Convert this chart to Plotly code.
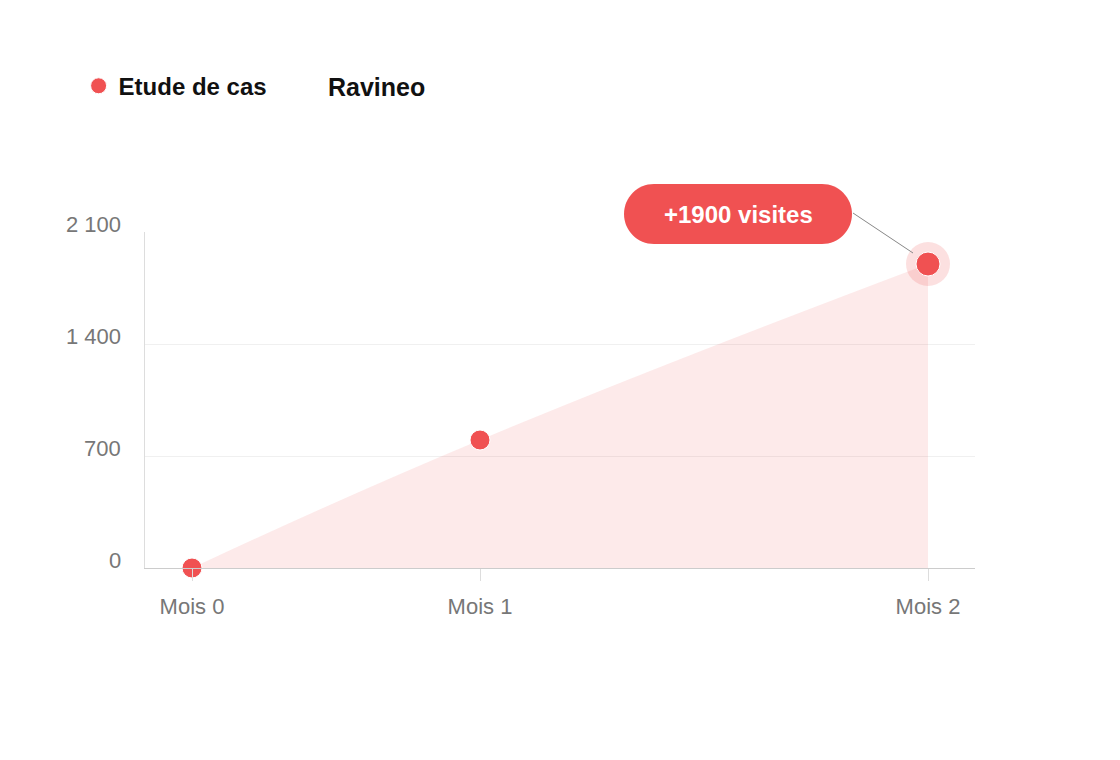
import plotly.graph_objects as go

# données
mois = ["Mois 0", "Mois 1", "Mois 2"]
jours = [0, 36, 92]
visites = [0, 800, 1900]
y_ticks = [0, 700, 1400, 2100]
y_tick_labels = ["0", "700", "1 400", "2 100"]
serie = "Etude de cas"
site = "Ravineo"
bulle = "+1900 visites"

rouge = "#F05152"
police = "Liberation Sans, Arial, sans-serif"
y_max = 2100

fig = go.Figure()

# aire lissée
fig.add_trace(go.Scatter(
    x=jours, y=visites, mode="lines",
    line=dict(shape="spline", smoothing=1.3, width=1, color="rgba(0,0,0,0)"),
    fill="tozeroy", fillcolor="rgba(240,81,82,0.12)",
    showlegend=False, hoverinfo="skip",
))

# halo du dernier point
fig.add_trace(go.Scatter(
    x=[jours[-1]], y=[visites[-1]], mode="markers",
    marker=dict(size=44, color="rgba(240,81,82,0.18)", opacity=1),
    showlegend=False, hoverinfo="skip", cliponaxis=False,
))

# points
fig.add_trace(go.Scatter(
    x=jours, y=visites, mode="markers", name=serie,
    marker=dict(size=[20, 20, 24], color=rouge, opacity=1),
    cliponaxis=False,
))

# bulle arrondie autour du libellé (pixels relatifs au dernier point)
r = 30
k = 0.5523 * r
left, right, bottom, top = -304, -76, 20, 80
path = (
    f"M {left + r},{bottom} L {right - r},{bottom} "
    f"C {right - r + k},{bottom} {right},{bottom + r - k} {right},{bottom + r} "
    f"C {right},{bottom + r + k} {right - r + k},{top} {right - r},{top} "
    f"L {left + r},{top} "
    f"C {left + r - k},{top} {left},{top - r + k} {left},{top - r} "
    f"C {left},{top - r - k} {left + r - k},{bottom} {left + r},{bottom} Z"
)
fig.add_shape(
    type="path", path=path, xref="x", yref="paper",
    xsizemode="pixel", ysizemode="pixel",
    xanchor=jours[-1], yanchor=visites[-1] / y_max,
    fillcolor=rouge, line=dict(width=0), layer="above",
)
fig.add_shape(
    type="line", xref="x", yref="paper",
    xsizemode="pixel", ysizemode="pixel",
    xanchor=jours[-1], yanchor=visites[-1] / y_max,
    x0=-75, y0=51, x1=-15, y1=11,
    line=dict(color="#888888", width=1),
)
fig.add_annotation(
    x=jours[-1], y=visites[-1], text=f"<b>{bulle}</b>",
    showarrow=False, xshift=-190, yshift=50,
    font=dict(family=police, size=24, color="white"),
)

# libellés de l'axe y, légèrement au-dessus des lignes
for v, t in zip(y_ticks, y_tick_labels):
    fig.add_annotation(
        x=0, xref="paper", y=v, yref="y", text=t, showarrow=False,
        xanchor="right", xshift=-22, yshift=8,
        font=dict(family=police, size=22, color="#777777"),
    )

fig.add_annotation(
    x=(326 - 145) / 830, xref="paper", y=1.432, yref="paper",
    text=f"<b>{site}</b>", showarrow=False, xanchor="left", yanchor="middle",
    font=dict(family=police, size=25, color="#111111"),
)

fig.update_layout(
    width=1104, height=744,
    margin=dict(l=137, r=137, t=224, b=184),
    paper_bgcolor="white", plot_bgcolor="white",
    font=dict(family=police),
    showlegend=True,
    legend=dict(
        orientation="h", x=-0.08, xanchor="left", y=1.434, yanchor="middle",
        font=dict(family=police, size=24, color="#111111", weight="bold"),
        bgcolor="rgba(0,0,0,0)",
    ),
    xaxis=dict(
        range=[-5.875, 97.875], tickvals=jours, ticktext=mois,
        showgrid=False, zeroline=False,
        showline=True, linecolor="#cccccc", linewidth=1,
        ticks="outside", ticklen=12, tickcolor="#dddddd",
        ticklabelstandoff=7,
        tickfont=dict(family=police, size=22, color="#777777"),
    ),
    yaxis=dict(
        range=[0, y_max], tickvals=y_ticks, showticklabels=False,
        showgrid=True, gridcolor="#f0f0f0", zeroline=False,
        showline=True, linecolor="#dddddd", linewidth=1,
    ),
)

fig.write_html("out.html")
